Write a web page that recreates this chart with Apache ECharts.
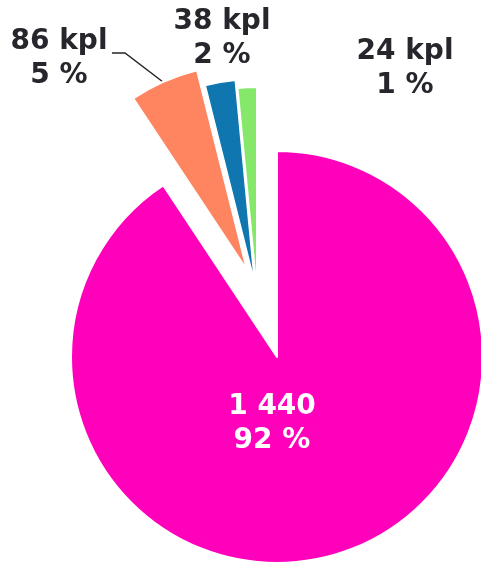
<!DOCTYPE html>
<html>
<head>
<meta charset="utf-8">
<script src="https://cdn.jsdelivr.net/npm/echarts@6/dist/echarts.min.js"></script>
<style>
html,body{margin:0;padding:0;background:#fff;}
#chart{width:481px;height:564px;}
</style>
</head>
<body>
<div id="chart"></div>
<script>
// Data
const categories = ['A', 'B', 'C', 'D'];
const values = [1440, 86, 38, 24];
const valueLabels = ['1 440', '86 kpl', '38 kpl', '24 kpl'];
const percentLabels = ['92 %', '5 %', '2 %', '1 %'];

// Styles / layout
const colors = ['#ff00bb', '#ff8560', '#1076b0', '#86e86a'];
const centers = [[277, 357], [247, 270], [255, 285], [257, 293]];
const radius = 206;
const labelPos = [[272, 424], [59, 59], [222, 39], [405, 69]];
const labelColors = ['#ffffff', '#26262c', '#26262c', '#26262c'];
const orangeLine = [[163, 82], [125, 53], [112, 53]];

const chart = echarts.init(document.getElementById('chart'));

const series = categories.map(function (cat, s) {
  return {
    type: 'pie',
    center: centers[s],
    radius: radius,
    startAngle: 90,
    clockwise: true,
    silent: true,
    animation: false,
    avoidLabelOverlap: false,
    itemStyle: { borderColor: '#ffffff', borderWidth: 2 },
    data: values.map(function (v, i) {
      const visible = i === s;
      return {
        name: categories[i],
        value: v,
        itemStyle: visible ? { color: colors[i] } : { color: 'rgba(0,0,0,0)', borderWidth: 0 },
        label: {
          show: visible,
          position: s === 0 ? 'inside' : 'outside',
          formatter: valueLabels[i] + '\n' + percentLabels[i],
          color: labelColors[i],
          fontFamily: 'DejaVu Sans',
          fontWeight: 'bold',
          fontSize: 28,
          lineHeight: 34,
          align: 'center'
        },
        labelLine: {
          show: visible && i === 1,
          lineStyle: { color: '#26262c', width: 1.5 }
        }
      };
    }),
    labelLayout: function (p) {
      if (p.dataIndex !== s) return {};
      const o = {
        x: labelPos[s][0],
        y: labelPos[s][1],
        align: 'center',
        verticalAlign: 'middle'
      };
      if (s === 1) o.labelLinePoints = orangeLine;
      return o;
    }
  };
});

chart.setOption({
  animation: false,
  backgroundColor: '#ffffff',
  series: series
});
</script>
</body>
</html>
